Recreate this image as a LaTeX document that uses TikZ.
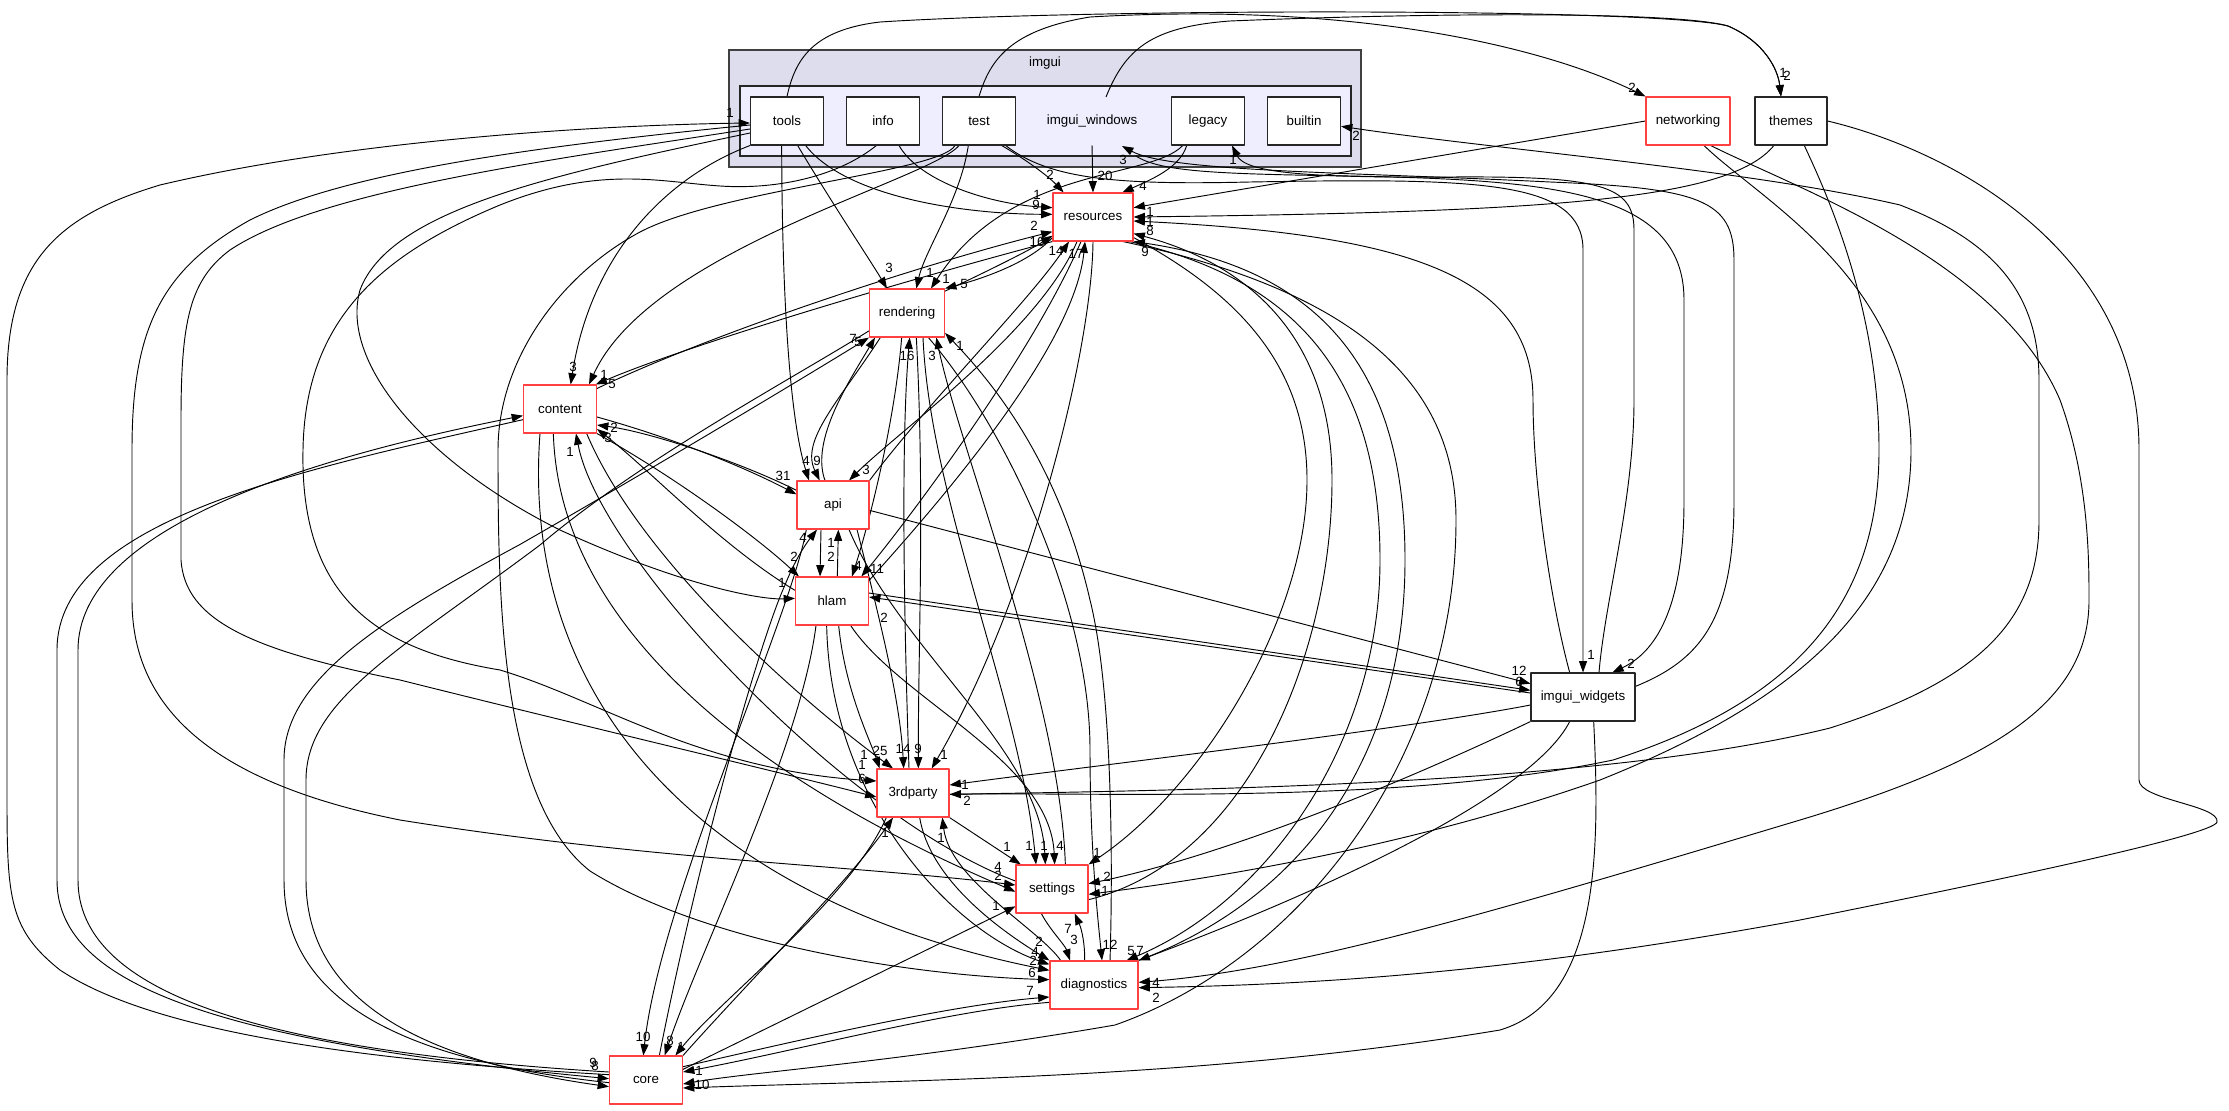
\documentclass[tikz,border=0pt]{standalone}
\usepackage{fontspec}
\setmainfont{Liberation Sans}
\usetikzlibrary{arrows.meta}
\definecolor{dirred}{RGB}{255,64,64}
\definecolor{outerfill}{RGB}{221,221,238}
\definecolor{innerfill}{RGB}{238,238,255}
\pgfdeclarelayer{back}
\pgfdeclarelayer{wires}
\pgfsetlayers{back,wires,main}

\begin{document}
\begin{tikzpicture}[x=0.75pt,y=-0.75pt,line join=round,
  every node/.style={font=\fontsize{10}{12}\selectfont},
  dir/.style={draw=black!85,fill=white,line width=0.8pt,minimum height=36pt,minimum width=54.75pt,inner sep=0pt},
  reddir/.style={dir,draw=dirred},
  dep/.style={line width=0.7pt,-{Triangle[length=8.5pt,width=6pt]}},
  lbl/.style={inner sep=0pt}]
  \useasboundingbox (0,0) rectangle (2229,1110);
  \begin{pgfonlayer}{back}
    \fill[white] (0,0) rectangle (2229,1110);
    \node[draw=black!75,fill=outerfill,line width=0.8pt,minimum width=474pt,minimum height=87.75pt,inner sep=0pt] (imguibox) at (1045,108.5) {};
    \node at (1045,63) {imgui};
    \node[draw=black!85,fill=innerfill,line width=0.8pt,minimum width=458.25pt,minimum height=52.5pt,inner sep=0pt] (windowsbox) at (1045.5,121) {};
    \node (windows) at (1092,121) {imgui\_windows};
  \end{pgfonlayer}
  \coordinate (wout) at (1106,97);
  \coordinate (wback) at (1122,146);
  \coordinate (wfwd) at (1136,156);
  \node[dir] (tools) at (787,121) {tools};
  \node[dir] (info) at (883,121) {info};
  \node[dir] (test) at (979,121) {test};
  \node[dir] (legacy) at (1208,121) {legacy};
  \node[dir] (builtin) at (1304,121) {builtin};
  \node[reddir,minimum width=63pt] (networking) at (1688,121) {networking};
  \node[dir,minimum width=54pt] (themes) at (1791,121) {themes};
  \node[reddir,minimum width=60pt] (resources) at (1093,217) {resources};
  \node[reddir,minimum width=56.25pt] (rendering) at (907,313) {rendering};
  \node[reddir] (content) at (560,409) {content};
  \node[reddir,minimum width=54pt] (api) at (833,505) {api};
  \node[reddir] (hlam) at (832,601) {hlam};
  \node[dir,minimum width=78pt] (widgets) at (1583,697) {imgui\_widgets};
  \node[reddir,minimum width=54pt] (thirdparty) at (913,793) {3rdparty};
  \node[reddir,minimum width=54pt] (settings) at (1052,889) {settings};
  \node[reddir,minimum width=66pt] (diagnostics) at (1094,985) {diagnostics};
  \node[reddir] (core) at (646,1080) {core};

  \begin{pgfonlayer}{wires}
  \draw[dep] (tools.north) .. controls (795,60) and (812,30) .. (880,22) .. controls (1100,8) and (1660,8) .. (1728,26) .. controls (1765,42) and (1778,70) .. ([xshift=-7.5pt]themes.north);
  \draw[dep] (wout) .. controls (1125,50) and (1150,27) .. (1230,21) .. controls (1450,12) and (1680,12) .. (1728,26) .. controls (1765,42) and (1778,70) .. ([xshift=-7.5pt]themes.north);
  \draw[dep] (test.north) .. controls (990,60) and (1010,30) .. (1090,17) .. controls (1350,2) and (1540,45) .. (networking.north west);
  \draw[dep] (networking.west) -- ([yshift=7pt]resources.east);
  \draw[dep] (themes.-125) .. controls (1730,200) and (1550,212) .. (resources.east);
  \draw[dep] ([xshift=-10pt]widgets.north) .. controls (1550,600) and (1533,480) .. (1533,400) .. controls (1533,280) and (1420,235) .. ([yshift=-3pt]resources.east);
  \draw[dep] ([xshift=17pt]test.south) .. controls (1030,162) and (1050,178) .. ([xshift=-22pt]resources.north);
  \draw[dep] ([yshift=-10pt]windows.south) -- (resources.north);
  \draw[dep] ([xshift=-16pt]legacy.south) .. controls (1180,168) and (1150,180) .. ([xshift=22pt]resources.north);
  \draw[dep] ([xshift=12pt]info.south) .. controls (920,182) and (990,204) .. ([yshift=7pt]resources.west);
  \draw[dep] ([xshift=14pt]tools.south) .. controls (845,196) and (960,214) .. ([yshift=2pt]resources.west);
  \draw[dep] ([yshift=-3pt]content.north east) .. controls (720,330) and (930,262) .. ([yshift=-11pt]resources.west);
  \draw[dep] ([yshift=-2pt]rendering.north east) .. controls (990,270) and (1030,250) .. ([yshift=-14pt]resources.west);
  \draw[dep] ([yshift=3pt]resources.south west) .. controls (1030,262) and (985,278) .. (rendering.north east);
  \draw[dep] (api.north east) .. controls (930,400) and (1030,300) .. ([xshift=-18pt]resources.south);
  \draw[dep] ([yshift=-3pt]hlam.north east) .. controls (960,480) and (1075,340) .. ([xshift=-6pt]resources.south);
  \draw[dep] (diagnostics.north east) .. controls (1300,900) and (1405,760) .. (1405,560) .. controls (1405,380) and (1330,270) .. (resources.south east);
  \draw[dep] ([xshift=-3pt]resources.south east) .. controls (1300,280) and (1380,380) .. (1380,560) .. controls (1380,740) and (1270,900) .. ([xshift=-9pt]diagnostics.north east);
  \draw[dep] ([yshift=3pt]resources.south east) .. controls (1230,290) and (1307,360) .. (1307,480) .. controls (1307,620) and (1200,790) .. (settings.north east);
  \draw[dep] ([yshift=-8pt]settings.east) .. controls (1250,860) and (1332,650) .. (1332,480) .. controls (1332,330) and (1240,262) .. ([yshift=6pt]resources.south east);
  \draw[dep] ([xshift=-8pt]resources.south east) .. controls (1350,290) and (1456,380) .. (1456,520) .. controls (1456,760) and (1300,960) .. (1115,1025) .. controls (900,1062) and (750,1072) .. ([yshift=-3pt]core.east);
  \draw[dep] ([xshift=-12pt]resources.south) .. controls (1040,330) and (900,430) .. ([xshift=12pt]api.north);
  \draw[dep] ([xshift=-9pt]resources.south) .. controls (1030,360) and (900,530) .. ([xshift=22pt]hlam.north);
  \draw[dep] (resources.south) .. controls (1092,350) and (1030,600) .. ([xshift=14pt]thirdparty.north);
  \draw[dep] (resources.south west) .. controls (950,268) and (700,340) .. ([xshift=-1pt]content.north east);
  \draw[dep] ([xshift=-15pt]test.south) .. controls (930,180) and (650,250) .. ([xshift=-6pt]content.north east);
  \draw[dep] ([xshift=-8pt]test.south) .. controls (960,200) and (925,250) .. ([xshift=7pt]rendering.north);
  \draw[dep] ([xshift=20pt]test.south) .. controls (1050,180) and (1120,185) .. (1250,182) .. controls (1480,178) and (1583,180) .. (1583,250) -- (widgets.north);
  \draw[dep] ([xshift=-18pt]test.south) .. controls (940,172) and (720,190) .. (640,232) .. controls (560,275) and (498,360) .. (498,450) .. controls (498,600) and (500,800) .. (590,871) .. controls (700,940) and (900,975) .. ([yshift=4pt]diagnostics.west);
  \draw[dep] (tools.south west) .. controls (660,180) and (590,260) .. ([xshift=8pt]content.north);
  \draw[dep] ([xshift=8pt]tools.south) .. controls (830,200) and (870,260) .. ([xshift=-15pt]rendering.north);
  \draw[dep] ([xshift=-4pt]tools.south) .. controls (782,300) and (790,420) .. ([xshift=-18pt]api.north);
  \draw[dep] ([yshift=-3pt]tools.west) .. controls (550,145) and (350,170) .. (250,220) .. controls (160,270) and (132,330) .. (132,450) -- (132,600) .. controls (132,700) and (200,780) .. (400,820) .. controls (650,860) and (850,865) .. ([yshift=3pt]settings.west);
  \draw[dep] ([yshift=-6pt]tools.west) .. controls (550,160) and (320,190) .. (230,250) .. controls (190,280) and (181,320) .. (181,420) -- (181,560) .. controls (185,620) and (250,650) .. (400,680) .. controls (600,730) and (750,765) .. ([yshift=-3pt]thirdparty.west);
  \draw[dep] ([yshift=-9pt]tools.west) .. controls (550,175) and (390,210) .. (360,290) .. controls (340,360) and (420,460) .. (560,530) .. controls (680,585) and (760,600) .. ([yshift=2pt]hlam.west);
  \draw[dep] ([yshift=4pt]core.west) .. controls (350,1060) and (150,1030) .. (60,970) .. controls (10,930) and (7,900) .. (7,800) -- (7,380) .. controls (7,260) and (60,215) .. (160,185) .. controls (350,140) and (600,125) .. ([yshift=-1.5pt]tools.west);
  \draw[dep] ([xshift=-5pt]info.south) .. controls (840,175) and (780,190) .. (720,186) .. controls (660,182) and (600,165) .. (500,205) .. controls (380,255) and (305,320) .. (303,450) .. controls (300,600) and (380,650) .. (500,670) .. controls (600,700) and (700,770) .. ([yshift=9pt]thirdparty.west);
  \draw[dep] ([xshift=-19pt]legacy.south) .. controls (1150,180) and (1010,165) .. ([xshift=18pt]rendering.north);
  \draw[dep] ([xshift=12pt]widgets.north) .. controls (1605,600) and (1634,500) .. (1634,400) -- (1634,230) .. controls (1634,185) and (1600,176) .. (1450,177) .. controls (1300,178) and (1245,172) .. ([xshift=18pt]legacy.south);
  \draw[dep] ([yshift=8pt]widgets.east) .. controls (1700,660) and (1734,620) .. (1734,500) -- (1734,260) .. controls (1734,200) and (1700,188) .. (1550,182) .. controls (1350,172) and (1170,172) .. (wback);
  \draw[dep] (wfwd) .. controls (1160,172) and (1220,174) .. (1350,176) .. controls (1550,180) and (1684,190) .. (1684,300) -- (1684,500) .. controls (1684,600) and (1660,650) .. ([xshift=22pt]widgets.north);
  \draw[dep] ([yshift=-1pt]thirdparty.east) .. controls (1200,790) and (1600,785) .. (1830,728) .. controls (1980,680) and (2039,620) .. (2039,520) -- (2039,380) .. controls (2039,290) and (1990,240) .. (1900,205) .. controls (1750,170) and (1500,150) .. ([yshift=-4pt]builtin.east);
  \draw[dep] ([xshift=10pt]themes.south) .. controls (1820,180) and (1879,300) .. (1879,450) .. controls (1879,600) and (1800,700) .. (1613,760) .. controls (1400,805) and (1100,792) .. ([yshift=-1pt]thirdparty.east);
  \draw[dep] ([xshift=12pt]networking.south) .. controls (1760,200) and (1911,280) .. (1911,450) .. controls (1911,600) and (1800,700) .. (1600,780) .. controls (1400,850) and (1200,880) .. ([yshift=-4pt]settings.east);
  \draw[dep] ([xshift=17pt]networking.south) .. controls (1800,190) and (2000,260) .. (2060,400) .. controls (2089,480) and (2089,560) .. (2089,600) .. controls (2089,700) and (2000,760) .. (1800,820) .. controls (1500,910) and (1300,970) .. ([yshift=2pt]diagnostics.east);
  \draw[dep] (themes.east) .. controls (1950,150) and (2139,250) .. (2139,450) -- (2139,780) .. controls (2139,800) and (2220,805) .. (2217,822) .. controls (2214,835) and (2000,880) .. (1800,920) .. controls (1500,975) and (1300,985) .. ([yshift=-2pt]diagnostics.east);
  \draw[dep] ([yshift=-6pt]widgets.west) .. controls (1400,730) and (1100,765) .. ([yshift=6pt]thirdparty.east);
  \draw[dep] (widgets.south west) .. controls (1450,760) and (1250,850) .. ([yshift=4pt]settings.east);
  \draw[dep] ([xshift=-10pt]widgets.south) .. controls (1530,800) and (1300,900) .. (diagnostics.north east);
  \draw[dep] ([xshift=8pt]widgets.south) .. controls (1600,850) and (1600,1000) .. (1500,1030) .. controls (1200,1080) and (900,1080) .. ([yshift=-6pt]core.east);
  \draw[dep] ([yshift=-4pt]api.east) -- ([yshift=10pt]widgets.west);
  \draw[dep] ([yshift=6pt]hlam.east) -- ([yshift=5pt]widgets.west);
  \draw[dep] ([yshift=3pt]widgets.west) -- ([yshift=3pt]hlam.east);
  \draw[dep] ([yshift=-6pt]content.east) .. controls (680,440) and (750,470) .. ([yshift=8pt]api.west);
  \draw[dep] ([yshift=11pt]api.west) .. controls (740,462) and (650,432) .. ([yshift=-12pt]content.east);
  \draw[dep] ([yshift=8pt]hlam.west) .. controls (720,545) and (650,470) .. ([yshift=-15pt]content.east);
  \draw[dep] (content.south east) .. controls (680,480) and (760,540) .. ([xshift=3pt]hlam.north west);
  \draw[dep] ([xshift=-9pt]api.south) -- ([xshift=-9pt]hlam.north);
  \draw[dep] ([xshift=4pt]hlam.north) -- ([xshift=4pt]api.south);
  \draw[dep] ([xshift=10pt]core.north) .. controls (700,850) and (760,640) .. (785,585) .. controls (795,560) and (805,545) .. ([xshift=-12pt]api.south);
  \draw[dep] ([xshift=-20pt]api.south) .. controls (790,620) and (660,900) .. ([xshift=-2pt]core.north);
  \draw[dep] ([xshift=-12pt]hlam.south) .. controls (800,750) and (700,950) .. ([xshift=14pt]core.north);
  \draw[dep] ([xshift=-20pt]thirdparty.south) .. controls (850,900) and (720,1000) .. ([xshift=22pt]core.north);
  \draw[dep] (core.north east) .. controls (750,980) and (850,880) .. ([xshift=-15pt]thirdparty.south);
  \draw[dep] ([yshift=8pt]core.east) -- ([yshift=-13pt]settings.west);
  \draw[dep] ([yshift=10pt]core.east) .. controls (800,1040) and (950,1005) .. ([yshift=-9pt]diagnostics.west);
  \draw[dep] ([yshift=-13pt]diagnostics.west) .. controls (950,1010) and (800,1050) .. ([yshift=6pt]core.east);
  \draw[dep] (thirdparty.south east) -- ([xshift=4pt]settings.north west);
  \draw[dep] ([xshift=12pt]rendering.south) .. controls (930,500) and (1020,700) .. ([xshift=-12pt]settings.north);
  \draw[dep] ([xshift=12pt]api.south) .. controls (900,650) and (1040,750) .. ([xshift=-5pt]settings.north);
  \draw[dep] ([xshift=14pt]hlam.south) .. controls (900,700) and (1050,760) .. ([xshift=2pt]settings.north);
  \draw[dep] ([xshift=-5pt]content.south) .. controls (560,650) and (800,800) .. ([yshift=-2pt]settings.west);
  \draw[dep] ([yshift=6pt]settings.west) .. controls (850,820) and (600,560) .. ([xshift=12pt]content.south);
  \draw[dep] ([xshift=20pt]content.south) .. controls (640,560) and (800,700) .. ([xshift=-15pt]thirdparty.north);
  \draw[dep] ([xshift=-15pt]content.south) .. controls (520,700) and (700,900) .. ([yshift=11pt]diagnostics.west);
  \draw[dep] ([xshift=5pt]thirdparty.south) .. controls (930,880) and (1000,930) .. (diagnostics.north west);
  \draw[dep] ([xshift=-4pt]hlam.south) .. controls (830,800) and (950,930) .. ([yshift=-3pt]diagnostics.north west);
  \draw[dep] ([xshift=-25pt]diagnostics.north) .. controls (1040,930) and (950,880) .. ([xshift=22pt]thirdparty.south);
  \draw[dep] ([xshift=-8pt]settings.south) .. controls (1050,930) and (1065,945) .. ([xshift=-18pt]diagnostics.north);
  \draw[dep] ([xshift=-7pt]diagnostics.north) .. controls (1085,945) and (1082,930) .. ([xshift=17pt]settings.south);
  \draw[dep] ([xshift=16pt]rendering.south) .. controls (1000,420) and (1090,600) .. (1090,750) .. controls (1090,850) and (1098,920) .. ([xshift=6pt]diagnostics.north);
  \draw[dep] ([xshift=12pt]diagnostics.north) .. controls (1112,900) and (1115,700) .. (1090,600) .. controls (1060,470) and (1000,390) .. ([yshift=-15pt]rendering.east);
  \draw[dep] ([xshift=10pt]settings.north) .. controls (1060,700) and (960,450) .. ([xshift=22pt]rendering.south);
  \draw[dep] ([xshift=-3pt]thirdparty.north) .. controls (905,650) and (900,450) .. ([xshift=2pt]rendering.south);
  \draw[dep] ([xshift=7pt]rendering.south) .. controls (925,500) and (918,650) .. ([xshift=4pt]thirdparty.north);
  \draw[dep] ([xshift=5pt]hlam.south) .. controls (845,690) and (870,740) .. ([xshift=-25pt]thirdparty.north);
  \draw[dep] ([xshift=18pt]api.south) .. controls (880,620) and (900,700) .. ([xshift=-7pt]thirdparty.north);
  \draw[dep] ([xshift=-20pt]rendering.south) .. controls (840,400) and (800,440) .. ([xshift=-10pt]api.north);
  \draw[dep] ([xshift=-6pt]api.north) .. controls (810,440) and (850,380) .. ([xshift=-24pt]rendering.south);
  \draw[dep] ([xshift=-4pt]rendering.south) .. controls (895,420) and (870,520) .. ([xshift=15pt]hlam.north);
  \draw[dep] ([yshift=-2pt]core.west) .. controls (400,1060) and (284,1000) .. (284,880) -- (284,760) .. controls (284,680) and (380,620) .. (519,545) .. controls (650,470) and (800,380) .. (rendering.south west);
  \draw[dep] ([yshift=5pt]rendering.south west) .. controls (790,380) and (640,460) .. (540,545) .. controls (400,650) and (306,700) .. (306,780) -- (306,880) .. controls (306,1000) and (420,1060) .. ([yshift=-5pt]core.west);
  \draw[dep] ([yshift=-8pt]content.west) .. controls (300,470) and (57,520) .. (57,650) -- (57,880) .. controls (57,980) and (200,1040) .. ([yshift=1pt]core.west);
  \draw[dep] ([yshift=6pt]core.west) .. controls (250,1050) and (78,990) .. (78,880) -- (78,650) .. controls (78,530) and (300,460) .. ([yshift=-5pt]content.west);
  \end{pgfonlayer}

  \node[lbl] at (1787,76) {2};
  \node[lbl] at (1783,73) {1};
  \node[lbl] at (1632,88) {2};
  \node[lbl] at (1150,212) {1};
  \node[lbl] at (1150,222) {1};
  \node[lbl] at (1150,231) {8};
  \node[lbl] at (1050,175) {2};
  \node[lbl] at (1105,176) {20};
  \node[lbl] at (1143,186) {4};
  \node[lbl] at (1037,195) {1};
  \node[lbl] at (1036,205) {9};
  \node[lbl] at (1034,226) {2};
  \node[lbl] at (1037,242) {16};
  \node[lbl] at (964,284) {5};
  \node[lbl] at (1056,251) {14};
  \node[lbl] at (1076,254) {17};
  \node[lbl] at (1145,252) {9};
  \node[lbl] at (1140,951) {7};
  \node[lbl] at (1097,853) {1};
  \node[lbl] at (702,1085) {10};
  \node[lbl] at (866,470) {3};
  \node[lbl] at (877,569) {11};
  \node[lbl] at (944,755) {1};
  \node[lbl] at (612,384) {5};
  \node[lbl] at (604,375) {1};
  \node[lbl] at (930,273) {1};
  \node[lbl] at (1591,655) {1};
  \node[lbl] at (1032,973) {6};
  \node[lbl] at (573,367) {3};
  \node[lbl] at (889,268) {3};
  \node[lbl] at (806,461) {4};
  \node[lbl] at (998,867) {4};
  \node[lbl] at (862,779) {6};
  \node[lbl] at (782,583) {1};
  \node[lbl] at (730,113) {1};
  \node[lbl] at (862,765) {1};
  \node[lbl] at (946,279) {1};
  \node[lbl] at (1233,160) {1};
  \node[lbl] at (1123,160) {3};
  \node[lbl] at (1631,664) {2};
  \node[lbl] at (1356,136) {2};
  \node[lbl] at (967,801) {2};
  \node[lbl] at (1105,891) {1};
  \node[lbl] at (1156,983) {4};
  \node[lbl] at (1156,998) {2};
  \node[lbl] at (965,785) {1};
  \node[lbl] at (1107,877) {2};
  \node[lbl] at (1131,951) {5};
  \node[lbl] at (1519,671) {12};
  \node[lbl] at (1519,682) {6};
  \node[lbl] at (884,618) {2};
  \node[lbl] at (783,476) {31};
  \node[lbl] at (614,428) {2};
  \node[lbl] at (608,438) {3};
  \node[lbl] at (794,557) {2};
  \node[lbl] at (831,557) {2};
  \node[lbl] at (831,543) {1};
  \node[lbl] at (803,538) {4};
  \node[lbl] at (643,1037) {10};
  \node[lbl] at (670,1041) {8};
  \node[lbl] at (681,1047) {1};
  \node[lbl] at (885,833) {1};
  \node[lbl] at (996,906) {1};
  \node[lbl] at (1030,991) {7};
  \node[lbl] at (699,1071) {1};
  \node[lbl] at (1007,847) {1};
  \node[lbl] at (1029,846) {1};
  \node[lbl] at (1044,846) {1};
  \node[lbl] at (1060,846) {4};
  \node[lbl] at (998,876) {2};
  \node[lbl] at (570,452) {1};
  \node[lbl] at (864,755) {1};
  \node[lbl] at (1033,961) {2};
  \node[lbl] at (1039,942) {2};
  \node[lbl] at (1035,952) {4};
  \node[lbl] at (941,838) {1};
  \node[lbl] at (1074,940) {3};
  \node[lbl] at (1068,929) {7};
  \node[lbl] at (1110,945) {12};
  \node[lbl] at (960,346) {1};
  \node[lbl] at (932,356) {3};
  \node[lbl] at (907,356) {16};
  \node[lbl] at (918,749) {9};
  \node[lbl] at (880,751) {25};
  \node[lbl] at (903,749) {14};
  \node[lbl] at (817,461) {9};
  \node[lbl] at (853,339) {7};
  \node[lbl] at (858,566) {4};
  \node[lbl] at (858,342) {5};
  \node[lbl] at (593,1063) {9};
  \node[lbl] at (595,1066) {8};
\end{tikzpicture}
\end{document}
